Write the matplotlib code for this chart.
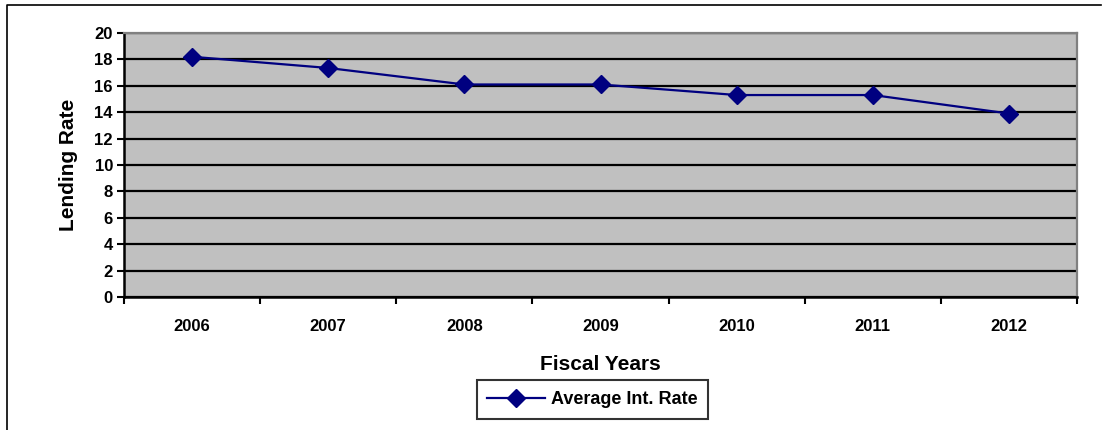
import matplotlib.pyplot as plt
from matplotlib.lines import Line2D

# data
years = ['2006', '2007', '2008', '2009', '2010', '2011', '2012']
avg_rate = [18.2, 17.35, 16.1, 16.1, 15.3, 15.3, 13.9]
y_ticks = [0, 2, 4, 6, 8, 10, 12, 14, 16, 18, 20]

plt.rcParams['font.family'] = ['Liberation Sans', 'DejaVu Sans']
plt.rcParams['font.weight'] = 'bold'

fig = plt.figure(figsize=(11.03, 4.30), dpi=100)
ax = fig.add_axes([124 / 1103, 1 - 297 / 430, 953 / 1103, 264 / 430])
ax.set_facecolor('#c0c0c0')

xs = [i + 0.5 for i in range(len(years))]
ax.plot(xs, avg_rate, color='#000080', lw=1.6, marker='D', markersize=9,
        markerfacecolor='#000080', markeredgecolor='#000080',
        label='Average Int. Rate', zorder=3)

ax.set_xlim(0, len(years))
ax.set_ylim(0, 20)
ax.set_yticks(y_ticks)
ax.set_yticklabels([str(v) for v in y_ticks], fontsize=12, fontweight='bold')
ax.set_xticks(range(len(years) + 1))
ax.set_xticklabels([])
ax.set_xticks(xs, minor=True)
ax.set_xticklabels(years, minor=True, fontsize=12, fontweight='bold')
ax.tick_params(axis='x', which='minor', length=0, pad=16)
ax.tick_params(axis='x', which='major', direction='out', length=5, width=1.5, color='black')
ax.tick_params(axis='y', direction='out', length=5, width=1.5, color='black', pad=3)

ax.grid(axis='y', color='black', lw=1.6)
ax.set_axisbelow(True)

for s in ['left', 'bottom']:
    ax.spines[s].set_color('black')
    ax.spines[s].set_linewidth(1.8)
for s in ['top', 'right']:
    ax.spines[s].set_color('#808080')
    ax.spines[s].set_linewidth(1.6)

ax.set_ylabel('Lending Rate', fontsize=15, fontweight='bold', labelpad=12)
ax.set_xlabel('Fiscal Years', fontsize=15, fontweight='bold', labelpad=15)

leg = ax.legend(loc='upper center', bbox_to_anchor=(0.4915, -0.315), frameon=True,
                fancybox=False, edgecolor='black', prop={'size': 13, 'weight': 'bold'},
                handlelength=3.2, borderpad=0.6, handletextpad=0.3,
                borderaxespad=0)
leg.get_frame().set_linewidth(1.5)

# outer chart border (top and left only, as in the reference)
fig.lines.append(Line2D([7 / 1103, 7 / 1103, 1101 / 1103], [0, 1 - 5 / 430, 1 - 5 / 430],
                        transform=fig.transFigure, color='black', lw=1.2))

fig.savefig('out.png', dpi=100)
